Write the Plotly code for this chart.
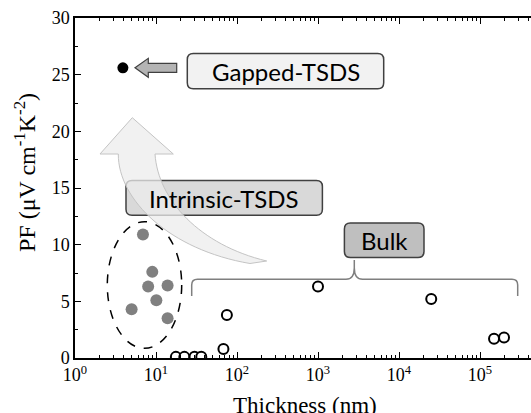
import plotly.graph_objects as go

# ---- data ----
gapped_x = [3.9]
gapped_y = [25.6]
intrinsic_x = [6.9, 9.0, 8.0, 13.9, 10.1, 5.0, 13.9]
intrinsic_y = [10.9, 7.6, 6.3, 6.4, 5.1, 4.3, 3.5]
bulk_x = [17.6, 22.4, 29.9, 36.2, 68, 75, 1000, 25000, 149000, 198000]
bulk_y = [0.1, 0.1, 0.12, 0.12, 0.8, 3.8, 6.3, 5.2, 1.7, 1.8]
x_tickvals = [1, 10, 100, 1000, 10000, 100000]
x_ticktext = ["10<sup>0</sup>", "10<sup>1</sup>", "10<sup>2</sup>", "10<sup>3</sup>",
              "10<sup>4</sup>", "10<sup>5</sup>"]
y_tickvals = [0, 5, 10, 15, 20, 25, 30]

W, H = 531, 413
L, R, T, B = 75, 0, 18, 55
PW, PH = W - L - R, H - T - B


def px(x):
    return (x - L) / PW


def py(y):
    return (H - B - y) / PH


def P(x, y):
    return f"{px(x):.5f},{py(y):.5f}"


def rrect(x0, y0, x1, y1, r):
    return (f"M{P(x0 + r, y0)} L{P(x1 - r, y0)} Q{P(x1, y0)} {P(x1, y0 + r)} "
            f"L{P(x1, y1 - r)} Q{P(x1, y1)} {P(x1 - r, y1)} L{P(x0 + r, y1)} "
            f"Q{P(x0, y1)} {P(x0, y1 - r)} L{P(x0, y0 + r)} Q{P(x0, y0)} {P(x0 + r, y0)} Z")


serif = "Liberation Serif"
sans = "Lato"

fig = go.Figure()
fig.add_trace(go.Scatter(x=bulk_x, y=bulk_y, mode="markers",
                         marker=dict(size=10, color="white", line=dict(color="black", width=2))))
fig.add_trace(go.Scatter(x=intrinsic_x, y=intrinsic_y, mode="markers",
                         marker=dict(size=12, color="#808080")))
fig.add_trace(go.Scatter(x=gapped_x, y=gapped_y, mode="markers",
                         marker=dict(size=11, color="black")))

shapes = []
# curved big arrow
arrow = (f"M{P(132.3, 117.7)} L{P(173.3, 154)} L{P(155, 154)} "
         f"C{P(158, 200)} {P(200, 245)} {P(266.7, 261)} L{P(250, 263.5)} "
         f"C{P(170, 250)} {P(118, 200)} {P(118.3, 154)} L{P(100, 154)} Z")
# boxes
shapes.append(dict(type="path", xref="paper", yref="paper", path=rrect(187.3, 53.5, 383.7, 88.7, 6),
                   fillcolor="#f2f2f2", line=dict(color="#404040", width=1.5), layer="above"))
shapes.append(dict(type="path", xref="paper", yref="paper", path=rrect(126, 180.6, 322.4, 215.2, 6),
                   fillcolor="#d9d9d9", line=dict(color="#404040", width=1.5), layer="above"))
shapes.append(dict(type="path", xref="paper", yref="paper", path=rrect(344.4, 223, 424, 257.5, 6),
                   fillcolor="#bfbfbf", line=dict(color="#404040", width=1.5), layer="above"))
shapes.append(dict(type="path", xref="paper", yref="paper", path=arrow,
                   fillcolor="rgba(236,236,236,0.75)", line=dict(color="#c4c4c4", width=1), layer="above"))
# small arrow
small = (f"M{P(135, 67.8)} L{P(148.3, 58.3)} L{P(148.3, 63.3)} L{P(176.7, 63.3)} "
         f"L{P(176.7, 72.3)} L{P(148.3, 72.3)} L{P(148.3, 77.3)} Z")
shapes.append(dict(type="path", xref="paper", yref="paper", path=small,
                   fillcolor="#b4b4b4", line=dict(color="#404040", width=1.2), layer="above"))
# bracket
brace = (f"M{P(191.7, 296)} L{P(191.7, 285)} Q{P(191.7, 279.3)} {P(197.5, 279.3)} "
         f"L{P(346, 279.3)} Q{P(354.3, 279.3)} {P(354.3, 268)} L{P(354.3, 260)} "
         f"L{P(354.3, 268)} Q{P(354.3, 279.3)} {P(362.6, 279.3)} L{P(512, 279.3)} "
         f"Q{P(517.7, 279.3)} {P(517.7, 285)} L{P(517.7, 296)}")
shapes.append(dict(type="path", xref="paper", yref="paper", path=brace,
                   line=dict(color="#7f7f7f", width=1.5), layer="above"))
# dashed ellipse
shapes.append(dict(type="circle", xref="paper", yref="paper",
                   x0=px(107.3), x1=px(181.7), y0=py(348.3), y1=py(221.7),
                   line=dict(color="black", width=1.5, dash="dash"), layer="above"))


def ann(text, x, y, font, **kw):
    return dict(text=text, x=px(x), y=py(y), xref="paper", yref="paper", showarrow=False,
                xanchor="center", yanchor="middle", font=font, **kw)


annotations = [
    ann("Gapped-TSDS", 285.5, 71.5, dict(family=sans, size=24, color="black")),
    ann("Intrinsic-TSDS", 224.2, 198.3, dict(family=sans, size=24, color="black")),
    ann("Bulk", 384.2, 240.5, dict(family=sans, size=24, color="black")),
    ann("PF (μV cm<sup>-1</sup>K<sup>-2</sup>)", 25, 173, dict(family=serif, size=24, color="black"),
        textangle=-90),
    ann("Thickness (nm)", 305, 405, dict(family=serif, size=23, color="black")),
]

minor_x = [m * 10 ** e for e in range(0, 6) for m in range(2, 10)]

fig.update_layout(
    width=W, height=H, margin=dict(l=L, r=R, t=T, b=B),
    paper_bgcolor="white", plot_bgcolor="white", showlegend=False,
    shapes=shapes, annotations=annotations,
    xaxis=dict(type="log", range=[0, PW / 81], showline=True, linecolor="black", linewidth=1.5,
               mirror="ticks", ticks="inside", ticklen=6, tickwidth=1.2, tickcolor="black",
               tickvals=x_tickvals, ticktext=x_ticktext, showgrid=False, zeroline=False,
               tickfont=dict(family=serif, size=18, color="black"),
               minor=dict(tickvals=minor_x, ticks="inside", ticklen=3.5, tickwidth=1, tickcolor="black",
                          showgrid=False)),
    yaxis=dict(range=[0, 30], showline=True, linecolor="black", linewidth=1.5,
               ticks="inside", ticklen=6, tickwidth=1.2, tickcolor="black",
               tickvals=y_tickvals, showgrid=False, zeroline=False,
               tickfont=dict(family=serif, size=18, color="black"),
               minor=dict(dtick=2.5, ticks="inside", ticklen=3.5, tickwidth=1, tickcolor="black",
                          showgrid=False)),
)

fig.write_html("out.html", config={"displayModeBar": False},
               post_script="document.body.style.margin='0';document.body.style.overflow='hidden';")
